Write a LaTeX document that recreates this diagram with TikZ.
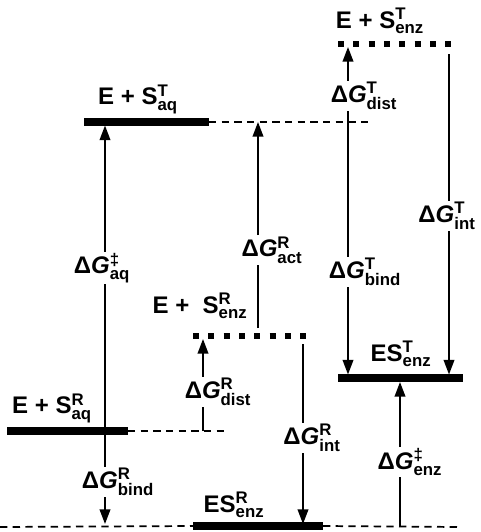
\documentclass[tikz,border=0pt]{standalone}
\usepackage{amsmath}
\usepackage{fontspec}
\setmainfont{Liberation Sans}
\usetikzlibrary{arrows.meta}

\newcommand{\dG}[2]{Δ\textit{G}$^{\text{#1}}_{\text{#2}}$}
\newcommand{\Sp}[2]{S$^{\text{#1}}_{\text{#2}}$}

\begin{document}
\begin{tikzpicture}[x=0.75pt,y=-0.75pt,
    font=\fontsize{18}{21}\selectfont\bfseries,
    level/.style={line width=5.5pt},
    enzlevel/.style={line width=4.5pt,dash pattern=on 4.5pt off 7pt},
    guide/.style={line width=1.3pt,dash pattern=on 5.5pt off 4pt},
    link/.style={line width=1.3pt},
    arr/.style={link,-{Triangle[length=11pt,width=8pt]}},
    lbl/.style={inner sep=1pt}]
  \useasboundingbox (0,0) rectangle (480,532);

  % energy levels
  \draw[level] (84,122) coordinate (taL) -- (209,122) coordinate (taR);
  \draw[guide] (taR) -- (372,122) coordinate (taG);
  \draw[enzlevel] (338,44) coordinate (teL) -- (458,44) coordinate (teR);
  \draw[enzlevel] (193,336) coordinate (reL) -- (313,336) coordinate (reR);
  \draw[level] (338,378) coordinate (etL) -- (463,378) coordinate (etR);
  \draw[level] (7,431) coordinate (raL) -- (128,431) coordinate (raR);
  \draw[guide] (raR) -- (224,431) coordinate (raG);
  \draw[level] (193,526) coordinate (erL) -- (323,526) coordinate (erR);
  \draw[guide] (0,527) coordinate (erG1) -- (erL);
  \draw[guide] (erR) -- (460,527) coordinate (erG2);

  \node (taN) at (138,99) {E + \Sp{T}{aq}};
  \node (teN) at (380,21) {E + \Sp{T}{enz}};
  \node (reN) at (200,306) {E +\ \ \Sp{R}{enz}};
  \node (etN) at (401,354) {E\Sp{T}{enz}};
  \node (raN) at (52,408) {E + \Sp{R}{aq}};
  \node (erN) at (234,505) {E\Sp{R}{enz}};

  % free energy differences
  \coordinate (aqB) at (105,431); \coordinate (aqT) at (105,125.5);
  \node[lbl] (aqL) at (102,268) {\dG{‡}{aq}};
  \draw[link] (aqB) -- (aqB |- aqL.south);
  \draw[arr] (aqB |- aqL.north) -- (aqT);

  \coordinate (rbT) at (105,434.5); \coordinate (rbB) at (105,524);
  \node[lbl] (rbL) at (118,482) {\dG{R}{bind}};
  \draw[link] (rbT) -- (rbT |- rbL.north);
  \draw[arr] (rbT |- rbL.south) -- (rbB);

  \coordinate (rdB) at (203,431); \coordinate (rdT) at (203,339);
  \node[lbl] (rdL) at (218,392) {\dG{R}{dist}};
  \draw[link] (rdB) -- (rdB |- rdL.south);
  \draw[arr] (rdB |- rdL.north) -- (rdT);

  \coordinate (raB) at (258,328); \coordinate (raT) at (258,122);
  \node[lbl] (raL) at (272,250) {\dG{R}{act}};
  \draw[link] (raB) -- (raB |- raL.south);
  \draw[arr] (raB |- raL.north) -- (raT);

  \coordinate (riT) at (303,344); \coordinate (riB) at (303,524);
  \node[lbl] (riL) at (312,438) {\dG{R}{int}};
  \draw[link] (riT) -- (riT |- riL.north);
  \draw[arr] (riT |- riL.south) -- (riB);

  \coordinate (ezB) at (400,527); \coordinate (ezT) at (400,382);
  \node[lbl] (ezL) at (410,462) {\dG{‡}{enz}};
  \draw[link] (ezB) -- (ezB |- ezL.south);
  \draw[arr] (ezB |- ezL.north) -- (ezT);

  \coordinate (tdB) at (348,122); \coordinate (tdT) at (348,47);
  \node[lbl] (tdL) at (364,96) {\dG{T}{dist}};
  \draw[link] (tdB) -- (tdB |- tdL.south);
  \draw[arr] (tdB |- tdL.north) -- (tdT);

  \coordinate (tbT) at (348,122); \coordinate (tbB) at (348,374.5);
  \node[lbl] (tbL) at (365,272) {\dG{T}{bind}};
  \draw[link] (tbT) -- (tbT |- tbL.north);
  \draw[arr] (tbT |- tbL.south) -- (tbB);

  \coordinate (tiT) at (449,54); \coordinate (tiB) at (449,374.5);
  \node[lbl] (tiL) at (447,216) {\dG{T}{int}};
  \draw[link] (tiT) -- (tiT |- tiL.north);
  \draw[arr] (tiT |- tiL.south) -- (tiB);
\end{tikzpicture}
\end{document}
